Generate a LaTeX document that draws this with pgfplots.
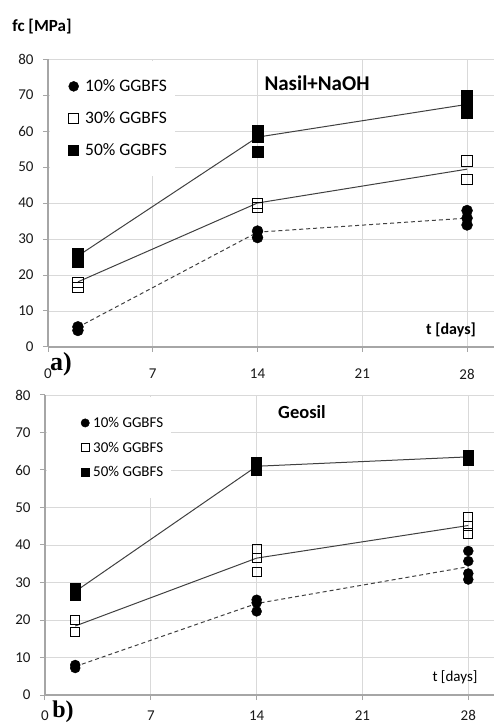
\documentclass[border=0pt]{standalone}
\usepackage{pgfplots}
\pgfplotsset{compat=1.18}
\usepackage{fontspec}
\setmainfont{Carlito}
\newfontfamily\timesf{Liberation Serif}
\definecolor{gridc}{HTML}{D9D9D9}
\definecolor{axc}{HTML}{A6A6A6}
\definecolor{linec}{HTML}{404040}
\pgfplotsset{
 mystyle/.style={
  scale only axis,
  axis x line=bottom, axis y line=left,
  axis line style={axc, line width=1.3pt, -},
  xmin=0, ymin=0, ymax=80,
  xtick={0,7,14,21,28}, ytick={0,10,...,80},
  grid=major, major grid style={gridc, line width=0.9pt},
  tick align=outside, major tick length=5pt, tick style={axc, line width=1pt},
  tick label style={font=\fontsize{15}{15}\selectfont, text=black!90},
  yticklabel style={xshift=-6pt},
  /pgf/number format/assume math mode=true,
  clip=false,
  legend cell align=left,
 },
 leg/.style 2 args={legend image code/.code={\path[draw=none,fill=none] (0pt,-4pt) (#1,4pt); \draw[##1] plot coordinates {(#2,0pt)};}},
}
\begin{document}
\begin{tikzpicture}[x=1pt,y=1pt]
\path[use as bounding box] (0,0) rectangle (494,724);
% ---------- a) ----------
\begin{axis}[mystyle, at={(48pt,377pt)}, anchor=south west, width=446pt, height=288pt, xmax=29.8,
  xticklabel style={inner sep=0pt, yshift=-17pt},
  legend style={at={(axis cs:0.1,79.6)}, anchor=north west, draw=none, fill=white,
    inner xsep=8pt, inner ysep=19pt, row sep=18.5pt, nodes={inner sep=0pt},
    font=\fontsize{17.5}{17.5}\selectfont}]
\addplot[forget plot, linec, line width=1pt, dash pattern=on 4pt off 3pt] coordinates {(2,5.5)(14,31.9)(28,35.8)};
\addplot[forget plot, linec, line width=1pt] coordinates {(2,18.1)(14,40)(28,49.4)};
\addplot[forget plot, linec, line width=1pt] coordinates {(2,25.3)(14,58.3)(28,67.4)};
\addplot[only marks, mark=*, mark size=5.5pt, black, leg={27.5pt}{16pt}, legend image post style={mark size=5pt}]
 coordinates {(2,5.6)(2,4.6)(14,32.2)(14,30.4)(28,37.9)(28,35.8)(28,33.9)};
\addlegendentry{10\% GGBFS}
\addplot[only marks, mark=square, mark size=5.2pt, black, mark options={fill=white, line width=0.9pt}, leg={27.5pt}{16pt}, legend image post style={mark size=4.8pt}]
 coordinates {(2,18)(2,16.5)(14,39.9)(14,38.8)(28,51.7)(28,46.6)};
\addlegendentry{30\% GGBFS}
\addplot[only marks, mark=square*, mark size=5.5pt, black, leg={27.5pt}{16pt}, legend image post style={mark size=5pt}]
 coordinates {(2,25.8)(2,24.8)(2,23.8)(14,60.2)(14,59)(14,58.4)(14,54.2)(28,69.9)(28,68.4)(28,66.8)(28,65.2)};
\addlegendentry{50\% GGBFS}
\end{axis}
% ---------- b) ----------
\begin{axis}[mystyle, at={(45pt,29pt)}, anchor=south west, width=449pt, height=300pt, xmax=29.7,
  xticklabel style={inner sep=0pt, yshift=-10.5pt},
  legend style={at={(axis cs:0.1,79.5)}, anchor=north west, draw=none, fill=white,
    inner xsep=8pt, inner ysep=20pt, row sep=13pt, nodes={inner sep=0pt},
    font=\fontsize{15}{15}\selectfont}]
\addplot[forget plot, linec, line width=1pt, dash pattern=on 4pt off 3pt] coordinates {(2,7.6)(14,24.4)(28,34.2)};
\addplot[forget plot, linec, line width=1pt] coordinates {(2,18.4)(14,36.5)(28,45.2)};
\addplot[forget plot, linec, line width=1pt] coordinates {(2,27.6)(14,61)(28,63.5)};
\addplot[only marks, mark=*, mark size=5pt, black, leg={38.5pt}{30.5pt}, legend image post style={mark size=4.2pt}]
 coordinates {(2,8)(2,7.2)(14,25.4)(14,24.6)(14,22.3)(28,38.4)(28,35.7)(28,32.4)(28,30.8)};
\addlegendentry{10\% GGBFS}
\addplot[only marks, mark=square, mark size=4.6pt, black, mark options={fill=white, line width=0.9pt}, leg={38.5pt}{30.5pt}, legend image post style={mark size=4pt}]
 coordinates {(2,20)(2,16.8)(14,38.9)(14,36.5)(14,32.8)(28,47.5)(28,45.1)(28,43.1)};
\addlegendentry{30\% GGBFS}
\addplot[only marks, mark=square*, mark size=5pt, black, leg={38.5pt}{30.5pt}, legend image post style={mark size=4.2pt}]
 coordinates {(2,28.4)(2,27.5)(2,26.7)(14,62)(14,61)(14,60)(28,64)(28,63.2)(28,62.6)};
\addlegendentry{50\% GGBFS}
\end{axis}
% ---------- texts ----------
\node[font=\bfseries\fontsize{17}{17}\selectfont] at (42,697) {fc [MPa]};
\node[font=\bfseries\fontsize{21}{21}\selectfont] at (317,641) {Nasil+NaOH};
\node[font=\bfseries\fontsize{16}{16}\selectfont] at (451,394) {t [days]};
\node[font=\timesf\bfseries\fontsize{26}{26}\selectfont] at (61,360) {a)};
\node[font=\bfseries\fontsize{18.5}{18.5}\selectfont] at (302,312) {Geosil};
\node[font=\fontsize{15}{15}\selectfont] at (455,47) {t [days]};
\node[font=\timesf\bfseries\fontsize{24}{24}\selectfont] at (63,12) {b)};
\end{tikzpicture}
\end{document}
